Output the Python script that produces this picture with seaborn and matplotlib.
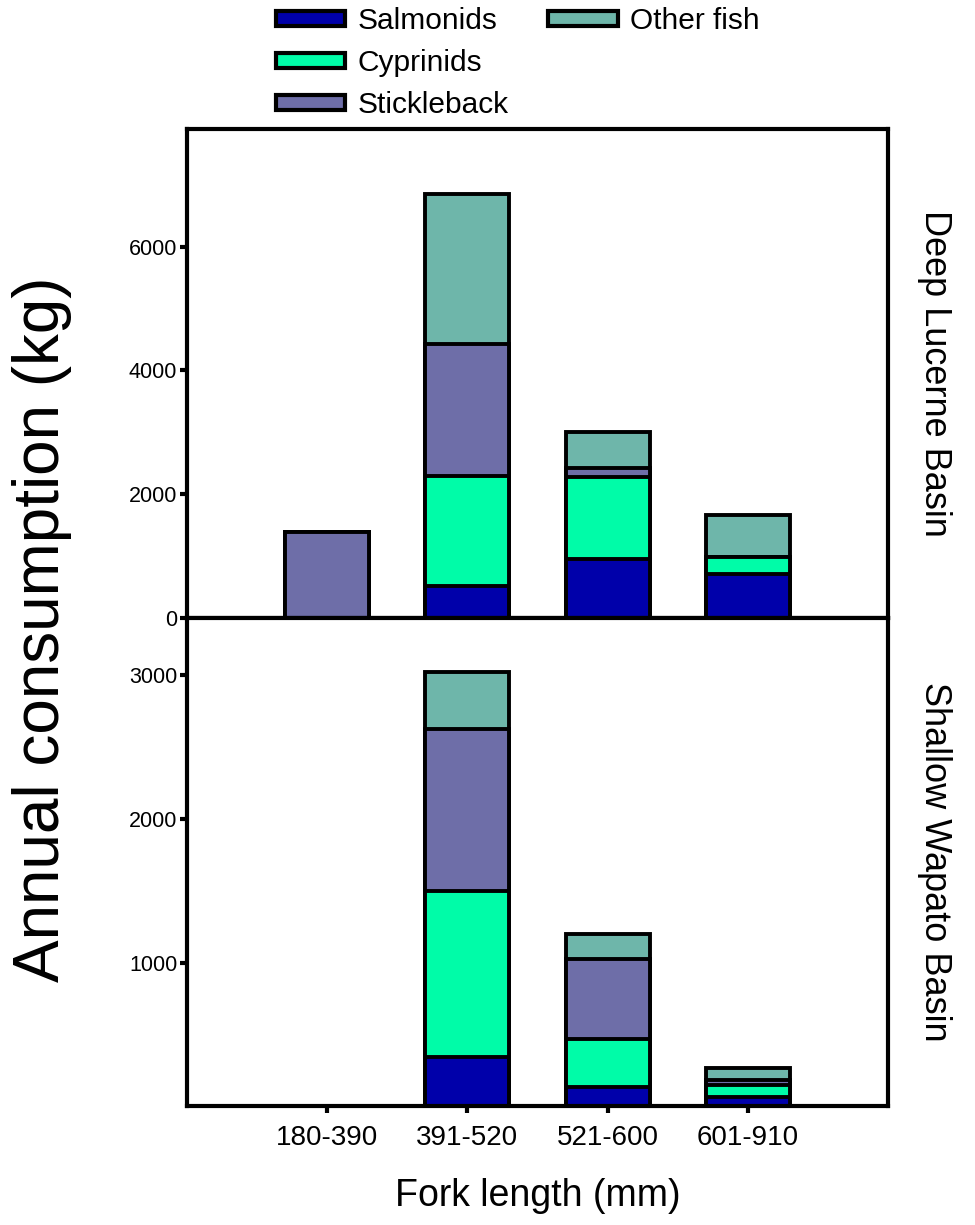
# libraries
import numpy as np
import pandas as pd
import matplotlib
matplotlib.use('Agg')
import matplotlib.pyplot as plt
import seaborn as sns
from matplotlib.patches import Patch

# data (kg per year)
sizes = ['180-390', '391-520', '521-600', '601-910']
prey = ['Salmonids', 'Cyprinids', 'Stickleback', 'Other fish']
colors = ['#0000aa', '#00fca8', '#6e6ea8', '#6eb6aa']

deep_salmonids = [0, 520, 960, 715]
deep_cyprinids = [0, 1770, 1320, 270]
deep_stickleback = [1390, 2130, 145, 0]
deep_other = [0, 2430, 580, 675]

shallow_salmonids = [0, 340, 135, 63]
shallow_cyprinids = [0, 1155, 330, 81]
shallow_stickleback = [0, 1130, 560, 37]
shallow_other = [0, 400, 175, 86]

basins = ['Deep Lucerne Basin', 'Shallow Wapato Basin']
basin_data = {
    'Deep Lucerne Basin': [deep_salmonids, deep_cyprinids, deep_stickleback, deep_other],
    'Shallow Wapato Basin': [shallow_salmonids, shallow_cyprinids, shallow_stickleback, shallow_other],
}

sns.set_style('ticks')
plt.rcParams['font.family'] = ['Liberation Sans', 'DejaVu Sans']
plt.rcParams['text.color'] = 'black'
plt.rcParams['axes.labelcolor'] = 'black'
plt.rcParams['xtick.color'] = 'black'
plt.rcParams['ytick.color'] = 'black'

fig = plt.figure(figsize=(9.75, 12.25), dpi=100)
ax_top = fig.add_axes([0.1918, 0.4955, 0.719, 0.3992])
ax_bot = fig.add_axes([0.1918, 0.0971, 0.719, 0.3984])
axes = [ax_top, ax_bot]
ylims = [(0, 7900), (0, 3400)]
yticks = [[0, 2000, 4000, 6000], [1000, 2000, 3000]]

for ax, basin, ylim, ticks in zip(axes, basins, ylims, yticks):
    vals = np.array(basin_data[basin])
    cum = vals.cumsum(axis=0)
    # draw the stacks from the top segment down so lower ones overlay
    for i in reversed(range(len(prey))):
        df = pd.DataFrame({'size': sizes, 'kg': cum[i]})
        sns.barplot(data=df, x='size', y='kg', color=colors[i], width=0.6,
                    edgecolor='black', linewidth=2.8, saturation=1, ax=ax)
    ax.set_xlim(-1, 4)
    ax.set_ylim(*ylim)
    ax.set_yticks(ticks)
    ax.set_ylabel('')
    ax.set_xlabel('')
    for s in ax.spines.values():
        s.set_linewidth(3)
        s.set_color('black')
    ax.tick_params(axis='y', labelsize=15.5, width=3, length=5, direction='out', pad=2)
    ax.tick_params(axis='x', labelsize=20, width=3, length=5, direction='out', pad=9)
    ax.text(1.066, 0.5, basin, transform=ax.transAxes, rotation=-90,
            ha='center', va='center', fontsize=26)

ax_top.tick_params(axis='x', length=0, labelbottom=False)
ax_bot.set_xlabel('Fork length (mm)', fontsize=27, labelpad=19)
fig.text(0.043, 0.486, 'Annual consumption (kg)', rotation=90,
         ha='center', va='center', fontsize=46)

# legend: three entries in the first column, one in the second
handles = [Patch(facecolor=c, edgecolor='black', linewidth=3) for c in colors]
blank = Patch(facecolor='none', edgecolor='none')
handles = handles + [blank, blank]
labels = prey + ['', '']
leg = fig.legend(handles, labels, loc='upper left', bbox_to_anchor=(0.255, 1.016),
                 ncol=2, frameon=False, fontsize=21.5, handlelength=2.34,
                 handleheight=0.4, labelspacing=0.47, columnspacing=1.33,
                 handletextpad=0.4)

fig.savefig('out.png', dpi=100)
